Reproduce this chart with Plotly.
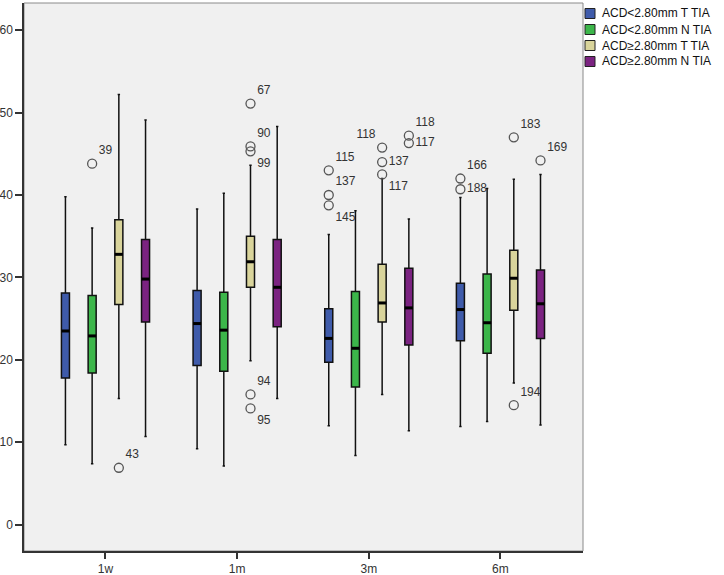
import plotly.graph_objects as go

categories = ["1w", "1m", "3m", "6m"]
series_names = ["ACD<2.80mm T TIA", "ACD<2.80mm N TIA", "ACD≥2.80mm T TIA", "ACD≥2.80mm N TIA"]
series_colors = ["#3F5BAA", "#3CB64A", "#D9D49B", "#7B2381"]

# per series: values for 1w, 1m, 3m, 6m
upper_whisker = [
    [39.8, 38.3, 35.2, 39.7],
    [36.0, 40.2, 38.1, 40.8],
    [52.2, 43.6, 42.0, 41.9],
    [49.1, 48.3, 37.1, 42.5],
]
q3_values = [
    [28.1, 28.4, 26.2, 29.3],
    [27.8, 28.2, 28.3, 30.4],
    [37.0, 35.0, 31.6, 33.3],
    [34.6, 34.6, 31.1, 30.9],
]
median_values = [
    [23.5, 24.4, 22.6, 26.1],
    [22.9, 23.6, 21.4, 24.5],
    [32.8, 31.9, 26.9, 29.9],
    [29.8, 28.8, 26.3, 26.8],
]
q1_values = [
    [17.8, 19.3, 19.7, 22.3],
    [18.4, 18.6, 16.7, 20.8],
    [26.7, 28.8, 24.6, 26.0],
    [24.6, 24.0, 21.8, 22.6],
]
lower_whisker = [
    [9.7, 9.2, 12.0, 11.9],
    [7.4, 7.1, 8.4, 12.5],
    [15.3, 19.9, 15.8, 17.2],
    [10.7, 15.3, 11.4, 12.1],
]

# outliers: (series index, category index, value, case label, label position)
outlier_series = [0, 0, 0, 0, 0, 1, 2, 2, 2, 2, 2, 2, 2, 2, 2, 2, 2, 3, 3, 3]
outlier_cat = [2, 2, 2, 3, 3, 0, 0, 1, 1, 1, 1, 1, 2, 2, 2, 3, 3, 2, 2, 3]
outlier_values = [43.0, 40.0, 38.75, 42.0, 40.7, 43.8, 6.9, 51.1, 45.9, 45.3, 15.8, 14.1,
                  45.75, 44.0, 42.5, 47.0, 14.5, 47.2, 46.3, 44.2]
outlier_labels = ["115", "137", "145", "166", "188", "39", "43", "67", "90", "99", "94", "95",
                  "118", "137", "117", "183", "194", "118", "117", "169"]
outlier_textpos = ["top right", "top right", "bottom right", "top right", "middle right",
                   "top right", "top right", "top right", "top right", "bottom right",
                   "top right", "bottom right", "top left", "middle right", "bottom right",
                   "top right", "top right", "top right", "middle right", "top right"]

slot = 0.2028
box_w = 0.061
offsets = [(k - 1.5) * slot for k in range(4)]

fig = go.Figure()
for k in range(4):
    xs = [i + offsets[k] for i in range(len(categories))]
    fig.add_trace(go.Box(
        x=xs, q1=q1_values[k], median=median_values[k], q3=q3_values[k],
        lowerfence=lower_whisker[k], upperfence=upper_whisker[k],
        name=series_names[k], fillcolor=series_colors[k],
        line=dict(color="#111111", width=1.5), width=box_w, whiskerwidth=0.3,
        boxpoints=False, hoverinfo="skip", showlegend=False,
    ))

# thick median lines
for k in range(4):
    mx, my = [], []
    for i in range(len(categories)):
        c = i + offsets[k]
        mx += [c - box_w / 2, c + box_w / 2, None]
        my += [median_values[k][i], median_values[k][i], None]
    fig.add_trace(go.Scatter(x=mx, y=my, mode="lines", line=dict(color="black", width=3),
                             showlegend=False, hoverinfo="skip"))

ox = [outlier_cat[j] + offsets[outlier_series[j]] for j in range(len(outlier_values))]
fig.add_trace(go.Scatter(
    x=ox, y=outlier_values, mode="markers+text", text=outlier_labels,
    textposition=outlier_textpos,
    marker=dict(symbol="circle-open", size=9, color="#555555", line=dict(width=1.3)),
    textfont=dict(family="Liberation Sans, Arial", size=12, color="#333333"),
    showlegend=False, hoverinfo="skip",
))

fig.add_shape(type="rect", xref="paper", yref="paper", x0=0, x1=1, y0=0, y1=1,
              line=dict(color="#8a8a8a", width=1), layer="below")

# legend drawn next to the plot (squares + labels)
L, T, W, H = 24, 3, 559, 548  # plot area in pixels
for k in range(4):
    cy = 13.5 + 16 * k
    fig.add_shape(type="rect", xref="paper", yref="paper",
                  x0=(585 - L) / W, x1=(595 - L) / W,
                  y0=(T + H - (cy + 5)) / H, y1=(T + H - (cy - 5)) / H,
                  fillcolor=series_colors[k], line=dict(color="#222222", width=1))
    fig.add_annotation(xref="paper", yref="paper", x=(600 - L) / W, y=(T + H - cy) / H,
                       text=series_names[k], showarrow=False, xanchor="left", yanchor="middle",
                       font=dict(family="Liberation Sans, Arial", size=12, color="#111111"))

fig.update_layout(
    width=724, height=575,
    margin=dict(l=L, r=724 - L - W, t=T, b=575 - T - H, autoexpand=False),
    paper_bgcolor="white", plot_bgcolor="#F0F0F0",
    font=dict(family="Liberation Sans, Arial", size=12, color="#333333"),
    boxmode="overlay",
    showlegend=False,
)
fig.update_xaxes(range=[-0.619, 3.627], tickmode="array", tickvals=list(range(len(categories))),
                 ticktext=categories, ticks="outside", ticklen=6, tickwidth=1.5, tickcolor="#333333",
                 showline=True, linecolor="#333333", linewidth=1.5, showgrid=False, zeroline=False,
                 automargin=False)
fig.update_yaxes(range=[-3.2, 63.3], tickmode="array", tickvals=[0, 10, 20, 30, 40, 50, 60],
                 ticks="outside", ticklen=7, tickwidth=1.5, tickcolor="#333333",
                 showline=True, linecolor="#333333", linewidth=1.5, showgrid=False, zeroline=False,
                 automargin=False)

fig.write_html("out.html", config={"displayModeBar": False},
               post_script="document.body.style.margin='0';document.body.style.overflow='hidden';")
